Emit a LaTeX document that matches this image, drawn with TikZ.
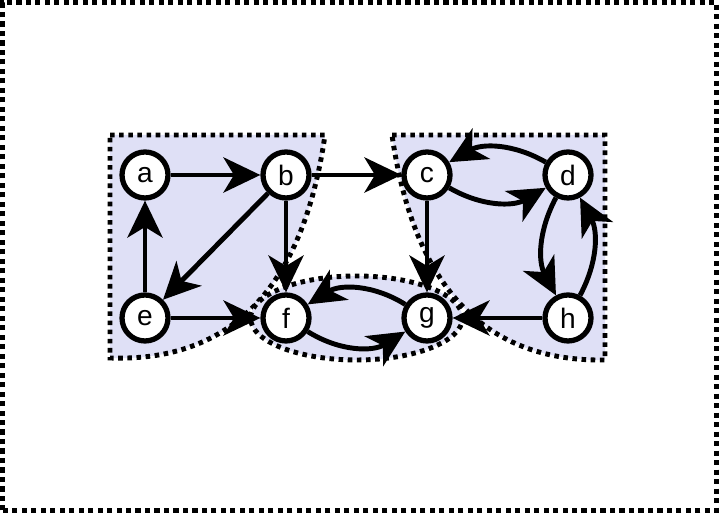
\documentclass[tikz,border=0pt]{standalone}
\usepackage{fontspec}
\setmainfont{Liberation Sans}
\usepackage{tikz}
\usetikzlibrary{shapes, arrows.meta, positioning}
\definecolor{regionblue}{RGB}{223,224,246}

\begin{document}
\begin{tikzpicture}[node distance=2.86cm and 2.82cm, on grid, >={Stealth[length=21pt, width=20pt, inset=6pt]}]
\tikzstyle{vertex} = [circle, draw, fill=white, line width=3pt, minimum size=0.92cm, inner sep=0pt, font=\fontsize{16}{18}\selectfont]
\tikzstyle{arrow} = [->, line width=2.8pt]
\tikzstyle{region} = [fill=regionblue, draw, line width=2.8pt, dash pattern=on 2.6pt off 2.6pt]

\useasboundingbox (0,0) rectangle (14.38,10.26);
\draw[line width=3pt, dash pattern=on 2.9pt off 2.5pt] (0.05,0.05) rectangle (14.33,10.21);

% shaded groups
\draw[region] (2.2,7.56) -- (6.5,7.56) .. controls (6.06,4.51) and (4.63,3.02) .. (2.2,3.1) -- cycle;
\draw[region] (7.84,7.56) -- (12.1,7.56) -- (12.1,3.06) .. controls (9.71,3.02) and (8.28,4.5) .. (7.84,7.56) -- cycle;
\draw[region] (7.13,3.9) ellipse (2.12 and 0.84);

\node[vertex] (a) at (2.9,6.76) {a};
\node[vertex, right=of a] (b) {b};
\node[vertex, right=of b] (c) {c};
\node[vertex, right=of c] (d) {d};
\node[vertex, below=of a] (e) {e};
\node[vertex, right=of e] (f) {f};
\node[vertex, right=of f] (g) {g};
\node[vertex, right=of g] (h) {h};

\draw[arrow] (a) -- (b);
\draw[arrow] (b) -- (c);
\draw[arrow] (b) -- (e);
\draw[arrow] (b) -- (f);
\draw[arrow] (e) -- (a);
\draw[arrow] (e) -- (f);
\draw[arrow] (c) -- (g);
\draw[arrow] (h) -- (g);
\draw[arrow] (c) to[bend right=30] (d);
\draw[arrow] (d) to[bend right=30] (c);
\draw[arrow] (d) to[bend right=28] (h);
\draw[arrow] (h) to[bend right=28] (d);
\draw[arrow] (f) to[bend right=32] (g);
\draw[arrow] (g) to[bend right=32] (f);
\end{tikzpicture}
\end{document}
